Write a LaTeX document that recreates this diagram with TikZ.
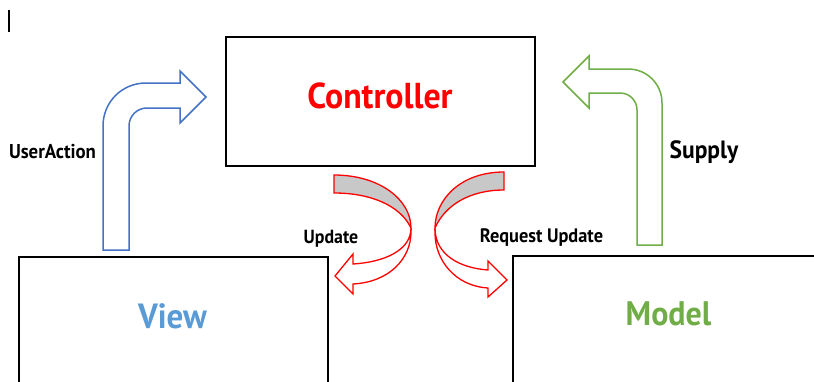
\documentclass[tikz,border=0pt]{standalone}
\usepackage{fontspec}
\newfontfamily\dinfont[FakeStretch=0.94]{PT Sans}
\definecolor{ctrlred}{HTML}{FF0000}
\definecolor{viewblue}{HTML}{5B9BD5}
\definecolor{arrowblue}{HTML}{4472C4}
\definecolor{modelgreen}{HTML}{70AD47}
\definecolor{bandgray}{HTML}{C8C8C8}
\tikzset{
  mvcbox/.style={draw=black, line width=1.8pt},
  bigtext/.style={font=\dinfont\bfseries\fontsize{36}{40}\selectfont, inner sep=0pt, anchor=base},
  smalltext/.style={font=\dinfont\bfseries\fontsize{20}{22}\selectfont, inner sep=0pt, anchor=base},
  bentarrow/.style={line width=1.5pt, fill=white, line join=miter},
  redarrow/.style={draw=ctrlred, line width=1.3pt, line join=miter},
}
\begin{document}
\begin{tikzpicture}[x=1pt,y=-1pt]
\useasboundingbox (0,0) rectangle (814,381);
\clip (0,0) rectangle (814,381);
% cursor mark
\coordinate (curtop) at (9,10);
\coordinate (curbot) at (9,32);
\draw[line width=1.2pt] (curtop) -- (curbot);
% boxes
\draw[mvcbox] (226,37) rectangle (535,166);
\draw[mvcbox] (19,257) rectangle (328,400);
\draw[mvcbox] (513,256) rectangle (830,400);
% texts
\node[bigtext, text=ctrlred] (ctrl) at (380,108) {Controller};
\node[bigtext, text=viewblue, font=\dinfont\bfseries\fontsize{35}{40}\selectfont] (view) at (172.5,328) {View};
\node[bigtext, text=modelgreen, font=\dinfont\bfseries\fontsize{34}{40}\selectfont] (model) at (668.5,325) {Model};
\node[smalltext] (ua) at (52.5,158) {UserAction};
\node[smalltext, font=\dinfont\bfseries\fontsize{25}{28}\selectfont] (sup) at (704,158) {Supply};
\node[smalltext, font=\dinfont\bfseries\fontsize{19}{22}\selectfont] (upd) at (331,243) {Update};
\node[smalltext, font=\dinfont\bfseries\fontsize{19.5}{22}\selectfont] (req) at (541.5,242) {Request Update};
% blue bent arrow (View -> Controller)
\draw[bentarrow, draw=arrowblue]
  (103,250) -- (103,126) .. controls (103,102) and (122,83) .. (146,83)
  -- (180,83) -- (180,71) -- (206,97) -- (180,123) -- (180,108) -- (147,108)
  .. controls (137,108) and (129,116) .. (129,126) -- (129,250) -- cycle;
% green bent arrow (Model -> Controller)
\draw[bentarrow, draw=modelgreen]
  (637,245) -- (637,110) .. controls (637,101) and (630,93) .. (620,93)
  -- (589,93) -- (589,108) -- (563,82) -- (589,56) -- (589,69) -- (628,69)
  .. controls (647,69) and (662,84) .. (662,103) -- (662,245) -- cycle;
% left red curved arrow (Update)
\draw[redarrow, fill=bandgray]
  (334,175) .. controls (380,175) and (411,200) .. (411,228)
  .. controls (400,205) and (370,193) .. (334,193) -- cycle;
\draw[redarrow, fill=white]
  (411,228) .. controls (411,250) and (385,262) .. (353,264)
  -- (353,254) -- (335,276) -- (353,294) -- (353,284)
  .. controls (390,282) and (411,258) .. (411,232) -- cycle;
% right red curved arrow (Request Update)
\draw[redarrow, fill=bandgray]
  (504,172) .. controls (460,172) and (435,200) .. (435,228)
  .. controls (445,205) and (470,190) .. (504,190) -- cycle;
\draw[redarrow, fill=white]
  (435,228) .. controls (435,255) and (460,268) .. (488,270)
  -- (488,261) -- (507,280) -- (488,297) -- (488,288)
  .. controls (455,286) and (435,260) .. (435,233) -- cycle;
\end{tikzpicture}
\end{document}
